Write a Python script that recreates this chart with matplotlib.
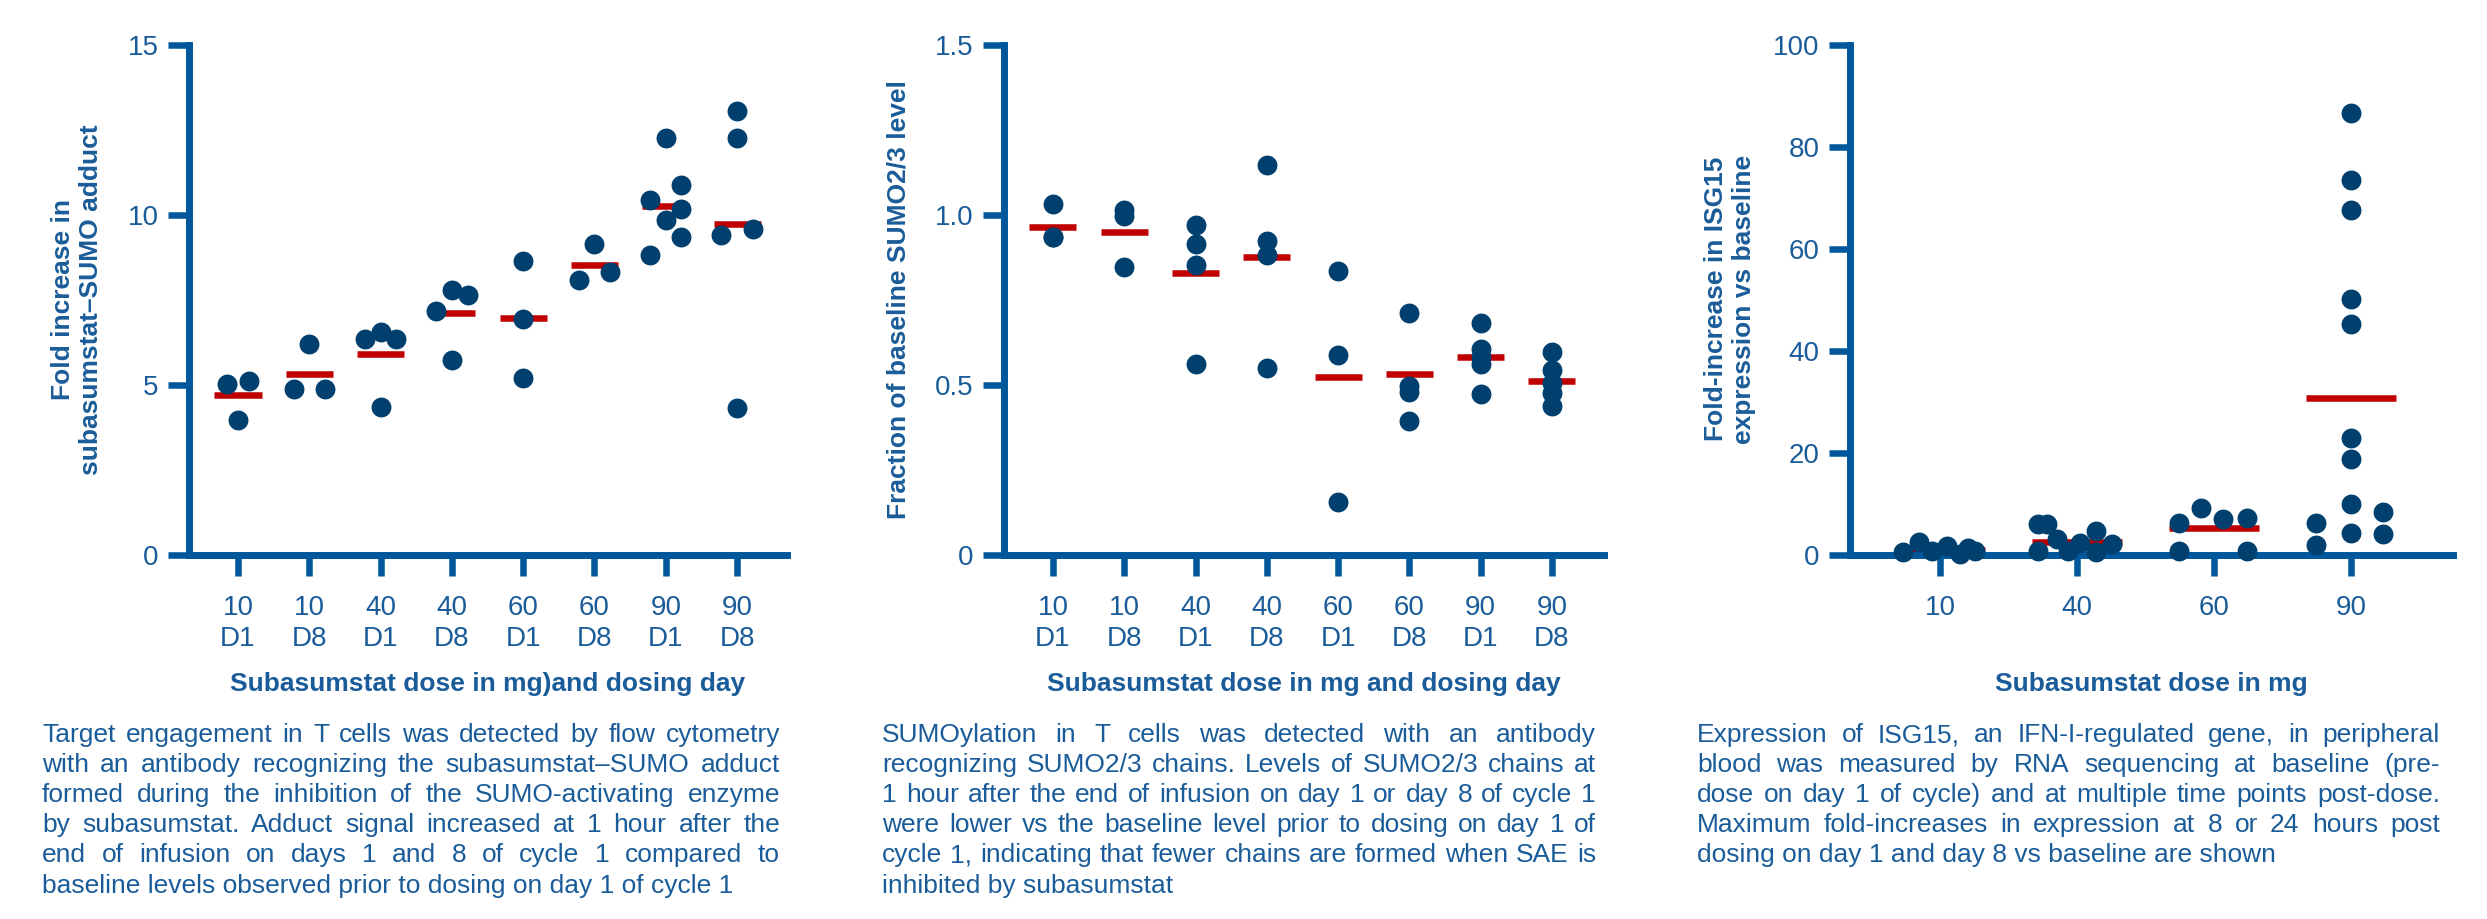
import matplotlib
matplotlib.use('Agg')
import matplotlib.pyplot as plt

# ---------------- data ----------------
p1_categories = ['10\nD1', '10\nD8', '40\nD1', '40\nD8', '60\nD1', '60\nD8', '90\nD1', '90\nD8']
p1_values = [
    [3.98, 5.03, 5.13],
    [4.87, 4.87, 6.21],
    [6.36, 6.56, 6.36, 4.34],
    [7.19, 7.78, 7.65, 5.75],
    [8.64, 6.93, 5.22],
    [8.08, 9.16, 8.31],
    [10.45, 12.27, 10.89, 9.84, 10.18, 9.36, 8.81],
    [13.06, 12.27, 9.42, 9.58, 4.33],
]
p1_jitter = [
    [0.0, -0.16, 0.16],
    [-0.22, 0.22, 0.0],
    [-0.22, 0.0, 0.22, 0.0],
    [-0.22, 0.0, 0.22, 0.0],
    [0.0, 0.0, 0.0],
    [-0.22, 0.0, 0.22],
    [-0.22, 0.0, 0.22, 0.0, 0.22, 0.22, -0.22],
    [0.0, 0.0, -0.22, 0.22, 0.0],
]
p1_means = [4.71, 5.31, 5.91, 7.13, 6.96, 8.52, 10.26, 9.75]

p2_categories = p1_categories
p2_values = [
    [1.031, 0.936, 0.936],
    [1.014, 0.997, 0.846],
    [0.972, 0.916, 0.854, 0.562],
    [1.146, 0.923, 0.883, 0.551],
    [0.835, 0.588, 0.155],
    [0.713, 0.496, 0.479, 0.395],
    [0.682, 0.605, 0.581, 0.562, 0.474],
    [0.598, 0.544, 0.506, 0.476, 0.438],
]
p2_means = [0.966, 0.951, 0.828, 0.877, 0.525, 0.531, 0.583, 0.513]

p3_categories = ['10', '40', '60', '90']
p3_values = [
    [0.65, 2.55, 0.8, 1.8, 0.1, 1.4, 0.8],
    [6.1, 6.1, 3.1, 0.8, 0.8, 2.4, 4.7, 0.5, 2.2],
    [6.2, 0.85, 9.15, 7.0, 7.3, 0.85],
    [86.6, 73.5, 67.6, 50.1, 45.3, 22.9, 18.8, 10.0, 4.25, 6.2, 1.96, 8.37, 4.1],
]
p3_jitter = [
    [-0.27, -0.153, -0.058, 0.051, 0.146, 0.204, 0.255],
    [-0.285, -0.22, -0.146, -0.285, -0.066, 0.022, 0.139, 0.139, 0.255],
    [-0.255, -0.255, -0.095, 0.066, 0.24, 0.24],
    [0, 0, 0, 0, 0, 0, 0, 0, 0, -0.255, -0.255, 0.234, 0.234],
]
p3_means = [1.0, 2.6, 5.22, 30.7]

p1_yticks = [0, 5, 10, 15]
p1_yticklabels = ['0', '5', '10', '15']
p2_yticks = [0, 0.5, 1.0, 1.5]
p2_yticklabels = ['0', '0.5', '1.0', '1.5']
p3_yticks = [0, 20, 40, 60, 80, 100]
p3_yticklabels = ['0', '20', '40', '60', '80', '100']

p1_ylabel = 'Fold increase in\nsubasumstat\u2013SUMO adduct'
p2_ylabel = 'Fraction of baseline SUMO2/3 level'
p3_ylabel = 'Fold-increase in ISG15\nexpression vs baseline'
p1_xlabel = 'Subasumstat dose in mg)and dosing day'
p2_xlabel = 'Subasumstat dose in mg and dosing day'
p3_xlabel = 'Subasumstat dose in mg'

caption1 = [
    'Target engagement in T cells was detected by flow cytometry',
    'with an antibody recognizing the subasumstat\u2013SUMO adduct',
    'formed during the inhibition of the SUMO-activating enzyme',
    'by subasumstat. Adduct signal increased at 1 hour after the',
    'end of infusion on days 1 and 8 of cycle 1 compared to',
    'baseline levels observed prior to dosing on day 1 of cycle 1',
]
caption2 = [
    'SUMOylation in T cells was detected with an antibody',
    'recognizing SUMO2/3 chains. Levels of SUMO2/3 chains at',
    '1 hour after the end of infusion on day 1 or day 8 of cycle 1',
    'were lower vs the baseline level prior to dosing on day 1 of',
    'cycle 1, indicating that fewer chains are formed when SAE is',
    'inhibited by subasumstat',
]
caption3 = [
    'Expression of ISG15, an IFN-I-regulated gene, in peripheral',
    'blood was measured by RNA sequencing at baseline (pre-',
    'dose on day 1 of cycle) and at multiple time points post-dose.',
    'Maximum fold-increases in expression at 8 or 24 hours post',
    'dosing on day 1 and day 8 vs baseline are shown',
]

# ---------------- style ----------------
plt.rcParams['font.family'] = ['Liberation Sans', 'DejaVu Sans']
W, H = 2487, 919
TEXT = '#1a5c99'
SPINE = '#00579b'
DOT = '#003f6e'
RED = '#c00000'

fig = plt.figure(figsize=(W / 100, H / 100), dpi=100)
fig.patch.set_facecolor('white')

AX_TOP, AX_BOT = 45, 555


def px_axes(x0, x1):
    return fig.add_axes([x0 / W, 1 - AX_BOT / H, (x1 - x0) / W, (AX_BOT - AX_TOP) / H])


def style(ax):
    for s in ['top', 'right']:
        ax.spines[s].set_visible(False)
    for s in ['left', 'bottom']:
        ax.spines[s].set_linewidth(5)
        ax.spines[s].set_color(SPINE)
        ax.spines[s].set_capstyle('projecting')
    ax.tick_params(length=15, width=4.7, color=SPINE, labelcolor=TEXT,
                   labelsize=20, direction='out')
    ax.tick_params(axis='y', pad=7)
    ax.tick_params(axis='x', pad=14)
    ax.set_facecolor('none')


def draw_panel(ax, cats, values, jitter, means, yticks, yticklabels, ylim, xlim):
    for i, vals in enumerate(values):
        jit = jitter[i] if jitter is not None else [0.0] * len(vals)
        ax.hlines(means[i], i - 0.33, i + 0.33, color=RED, lw=4.7, zorder=2)
        ax.scatter([i + j for j in jit], vals, s=205, color=DOT, linewidths=0,
                   zorder=4, clip_on=False)
    ax.set_xticks(range(len(cats)))
    ax.set_xticklabels(cats, linespacing=1.22)
    ax.set_yticks(yticks)
    ax.set_yticklabels(yticklabels)
    ax.set_ylim(*ylim)
    ax.set_xlim(*xlim)
    style(ax)


ax1 = px_axes(189, 787)
draw_panel(ax1, p1_categories, p1_values, p1_jitter, p1_means,
           p1_yticks, p1_yticklabels, (0, 15), (-0.687, 7.70))
ax2 = px_axes(1004, 1604)
draw_panel(ax2, p2_categories, p2_values, None, p2_means,
           p2_yticks, p2_yticklabels, (0, 1.5), (-0.687, 7.73))
ax3 = px_axes(1850, 2453)
draw_panel(ax3, p3_categories, p3_values, p3_jitter, p3_means,
           p3_yticks, p3_yticklabels, (0, 100), (-0.657, 3.745))


def ftext(xp, yp, s, **kw):
    return fig.text(xp / W, 1 - yp / H, s, color=TEXT, **kw)


LBL = dict(fontsize=19, fontweight='bold', ha='center', va='center')
ftext(77, 300, p1_ylabel, rotation=90, multialignment='center', linespacing=1.2, **LBL)
ftext(898, 300, p2_ylabel, rotation=90, **LBL)
ftext(1730, 299, p3_ylabel, rotation=90, multialignment='center', linespacing=1.2, **LBL)
ftext((189 + 787) / 2, 684, p1_xlabel, **LBL)
ftext((1004 + 1604) / 2, 684, p2_xlabel, **LBL)
ftext((1850 + 2453) / 2, 684, p3_xlabel, **LBL)

renderer = fig.canvas.get_renderer()


def justified(lines, x0, x1, y0, dy, size):
    for i, line in enumerate(lines):
        yp = y0 + i * dy
        if i == len(lines) - 1:
            ftext(x0, yp, line, fontsize=size, ha='left', va='baseline')
            continue
        words = line.split(' ')
        texts = [ftext(0, yp, w, fontsize=size, ha='left', va='baseline') for w in words]
        widths = [t.get_window_extent(renderer).width for t in texts]
        gap = (x1 - x0 - sum(widths)) / (len(words) - 1)
        x = x0
        for t, w in zip(texts, widths):
            t.set_x(x / W)
            x += w + gap


justified(caption1, 42, 780, 742, 30.1, 19)
justified(caption2, 882, 1596, 742, 30.1, 19)
justified(caption3, 1697, 2440, 742, 30.1, 19)

fig.savefig('out.png', dpi=100, facecolor='white')
